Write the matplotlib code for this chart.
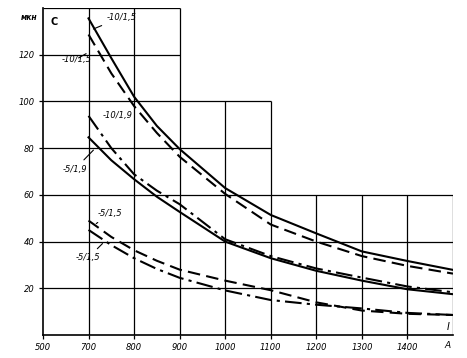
import matplotlib
matplotlib.use("Agg")
import matplotlib.pyplot as plt

# current, A (axis is broken between 500 and 700)
cur = [700, 750, 800, 850, 900, 1000, 1100, 1200, 1300, 1400, 1500]

# curves
c10_15_solid = [135.5, 118.5, 102, 89.5, 79.6, 62.9, 51.4, 43.5, 35.8, 31.7, 27.9]
c10_15_dash = [128.6, 112, 98, 86.5, 76.3, 60.4, 47.3, 40.0, 33.8, 29.6, 26.3]
c10_19_dashdot = [93.8, 80, 68.8, 61.8, 56.0, 41.0, 33.8, 28.5, 24.6, 20.8, 18.3]
c5_19_solid = [84.6, 74.8, 66.7, 59.2, 52.7, 40.0, 32.9, 27.5, 23.3, 19.6, 17.5]
c5_15_dash = [49.0, 42, 36.3, 31.8, 28.0, 23.3, 19.2, 14.0, 10.5, 9.1, 8.6]
c5_15_dashdot = [45.0, 38.5, 32.9, 28.3, 24.5, 19.1, 15.0, 13.0, 11.4, 9.5, 8.6]

xtick_pos = [600, 700, 800, 900, 1000, 1100, 1200, 1300, 1400]
xtick_lab = ["500", "700", "800", "900", "1000", "1100", "1200", "1300", "1400"]
ytick_pos = [20, 40, 60, 80, 100, 120]

fig = plt.figure(figsize=(4.67, 3.58), dpi=100)
ax = fig.add_axes([0.092, 0.064, 0.878, 0.914])
ax.set_xlim(600, 1500)
ax.set_ylim(0, 140)

# stepped grid as in the original blank
gk = dict(color="black", lw=0.9, zorder=1)
for x in [700, 800, 900]:
    ax.vlines(x, 0, 140, **gk)
for x in [1000, 1100]:
    ax.vlines(x, 0, 100, **gk)
for x in [1200, 1300, 1400, 1500]:
    ax.vlines(x, 0, 60, **gk)
for y in [20, 40, 60]:
    ax.hlines(y, 600, 1500, **gk)
for y in [80, 100]:
    ax.hlines(y, 600, 1100, **gk)
for y in [120, 140]:
    ax.hlines(y, 600, 900, **gk)

for s in ["top", "right"]:
    ax.spines[s].set_visible(False)
ax.spines["left"].set_linewidth(1.2)
ax.spines["bottom"].set_linewidth(1.2)

lw = 1.5
ax.plot(cur, c10_15_solid, color="black", lw=lw)
ax.plot(cur, c10_15_dash, color="black", lw=lw, ls=(0, (6, 3)))
ax.plot(cur, c10_19_dashdot, color="black", lw=lw, ls=(0, (8, 2.5, 1.5, 2.5)))
ax.plot(cur, c5_19_solid, color="black", lw=lw)
ax.plot(cur, c5_15_dash, color="black", lw=lw, ls=(0, (6, 3)))
ax.plot(cur, c5_15_dashdot, color="black", lw=lw, ls=(0, (8, 2.5, 1.5, 2.5)))

ax.set_xticks(xtick_pos)
ax.set_xticklabels(xtick_lab, fontstyle="italic", fontsize=6)
ax.set_yticks(ytick_pos)
ax.set_yticklabels([str(v) for v in ytick_pos], fontstyle="italic", fontsize=6)
ax.tick_params(length=3, width=0.9, pad=3)

tk = dict(fontsize=6, fontstyle="italic", color="black")
ax.annotate("-10/1,5", xy=(705, 130.5), xytext=(740, 136), ha="left", va="center",
            arrowprops=dict(arrowstyle="-", lw=0.8), **tk)
ax.annotate("-10/1,5", xy=(700, 121), xytext=(640, 118), ha="left", va="center",
            arrowprops=dict(arrowstyle="-", lw=0.8), **tk)
ax.text(730, 94, "-10/1,9", ha="left", va="center", **tk)
ax.annotate("-5/1,9", xy=(715, 80), xytext=(643, 71), ha="left", va="center",
            arrowprops=dict(arrowstyle="-", lw=0.8), **tk)
ax.annotate("-5/1,5", xy=(712, 47), xytext=(720, 52), ha="left", va="center",
            arrowprops=dict(arrowstyle="-", lw=0.8), **tk)
ax.annotate("-5/1,5", xy=(735, 40), xytext=(672, 33), ha="left", va="center",
            arrowprops=dict(arrowstyle="-", lw=0.8), **tk)

fig.text(0.045, 0.944, "мкн", fontsize=5.5, fontstyle="italic", fontweight="bold")
ax.text(625, 134, "C", fontsize=7, fontweight="bold", ha="center", va="center")
ax.text(1490, 3.5, "I", fontsize=7, fontstyle="italic", ha="center", va="center")
fig.text(0.958, 0.035, "A", fontsize=6.5, fontstyle="italic", ha="center", va="center")

fig.savefig("out.png", dpi=100)
